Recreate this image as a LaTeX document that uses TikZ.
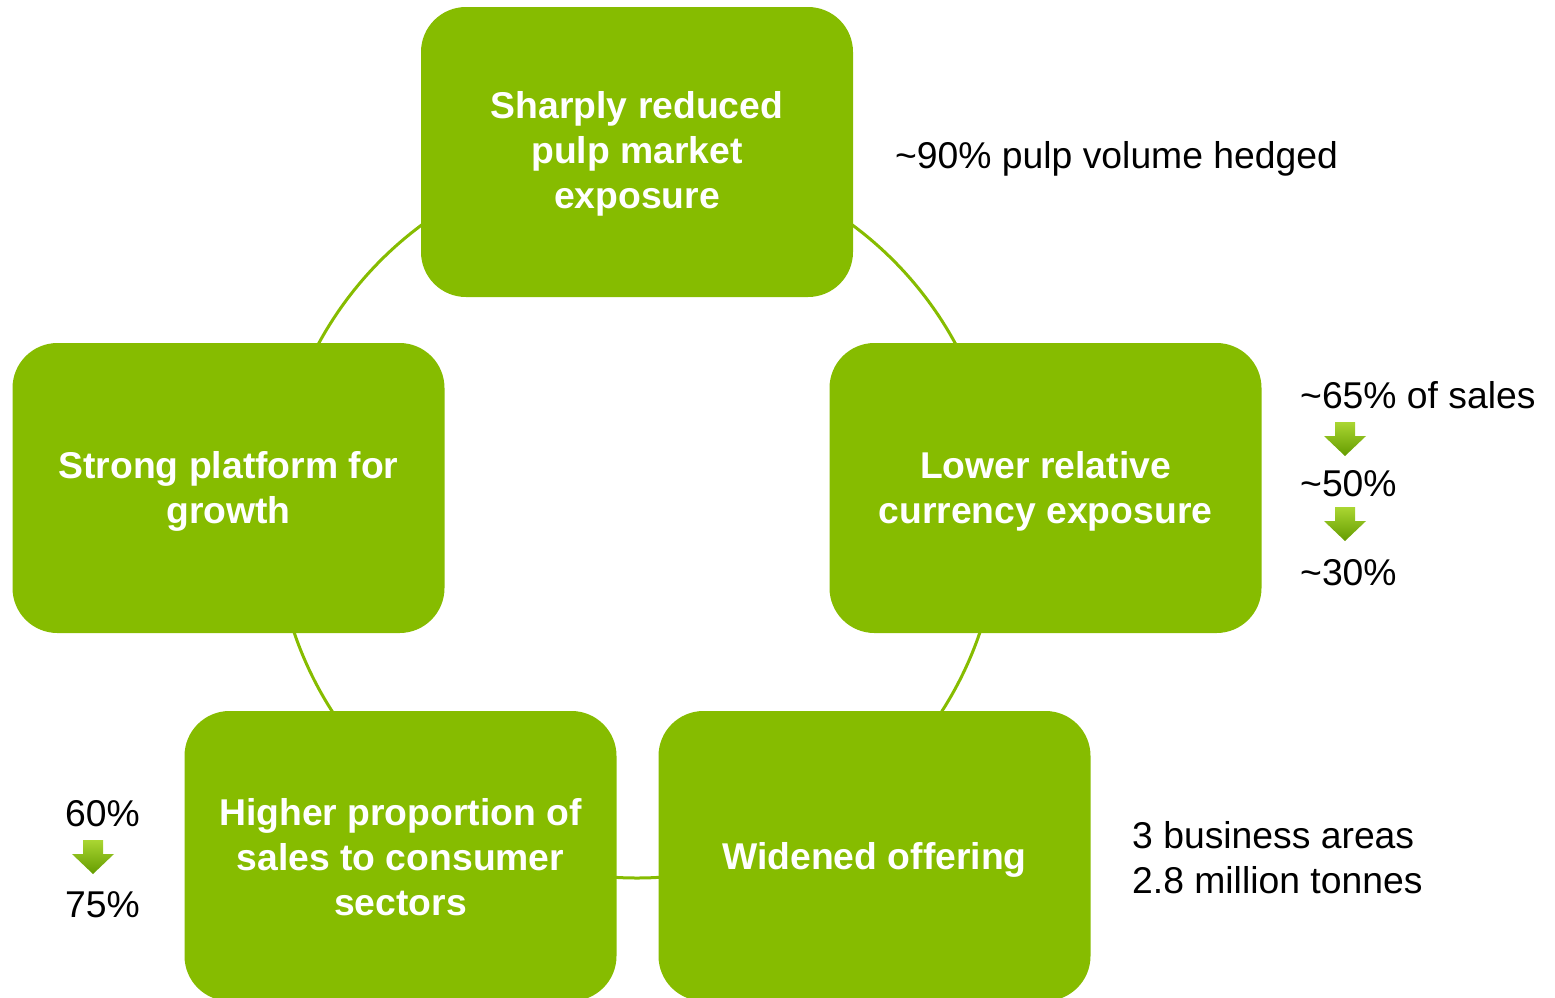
\documentclass[tikz,border=0pt]{standalone}
\usepackage{fontspec}
\setmainfont{Liberation Sans}
\definecolor{boxgreen}{RGB}{134,188,0}
\definecolor{arrlight}{RGB}{170,214,50}
\definecolor{arrdark}{RGB}{100,156,0}
\begin{document}
\begin{tikzpicture}[x=1pt,y=-1pt,
  box/.style={fill=boxgreen, draw=none, rounded corners=45pt, minimum width=432pt, minimum height=290pt, inner sep=0pt},
  boxtext/.style={inner sep=0pt, align=center, text=white, font=\fontsize{37.3}{45}\selectfont\bfseries},
  note/.style={anchor=west, inner sep=0pt, align=left, font=\fontsize{37.3}{45}\selectfont},
  downarrow/.pic={\shade[top color=arrlight, bottom color=arrdark] (-10,0) -- (10,0) -- (10,14) -- (21,14) -- (0,34) -- (-21,14) -- (-10,14) -- cycle;}
]
\useasboundingbox (0,0) rectangle (1555,997);
\node[circle, draw=boxgreen, line width=3pt, minimum size=724pt, inner sep=0pt] (ring) at (637,516) {};
\node[box] (top) at (637,152) {};
\node[box] (right) at (1045.5,488) {};
\node[box] (left) at (228.5,488) {};
\node[box] (bl) at (400.5,856) {};
\node[box] (br) at (874.5,856) {};
\node[boxtext] (ttop) at ([yshift=-2pt]top.center) {Sharply reduced\\pulp market\\exposure};
\node[boxtext] (tright) at ([yshift=-3pt]right.center) {Lower relative\\currency exposure};
\node[boxtext] (tleft) at ([yshift=-3pt]left.center) {Strong platform for\\growth};
\node[boxtext] (tbl) at ([yshift=-1pt]bl.center) {Higher proportion of\\sales to consumer\\sectors};
\node[boxtext] (tbr) at ([yshift=-4pt]br.center) {Widened offering};
\node[note] (n1) at (895,159) {\textasciitilde 90\% pulp volume hedged};
\node[note] (n2) at (1300,395) {\textasciitilde 65\% of sales};
\node[note] (n3) at (1300,484) {\textasciitilde 50\%};
\node[note] (n4) at (1300,573) {\textasciitilde 30\%};
\node[note] (n5) at (65,814) {60\%};
\node[note] (n6) at (65,905) {75\%};
\node[note] (n7) at (1132,858) {3 business areas\\2.8 million tonnes};
\pic at (1345,422) {downarrow};
\pic at (1345,507) {downarrow};
\pic at (93,840) {downarrow};
\end{tikzpicture}
\end{document}
